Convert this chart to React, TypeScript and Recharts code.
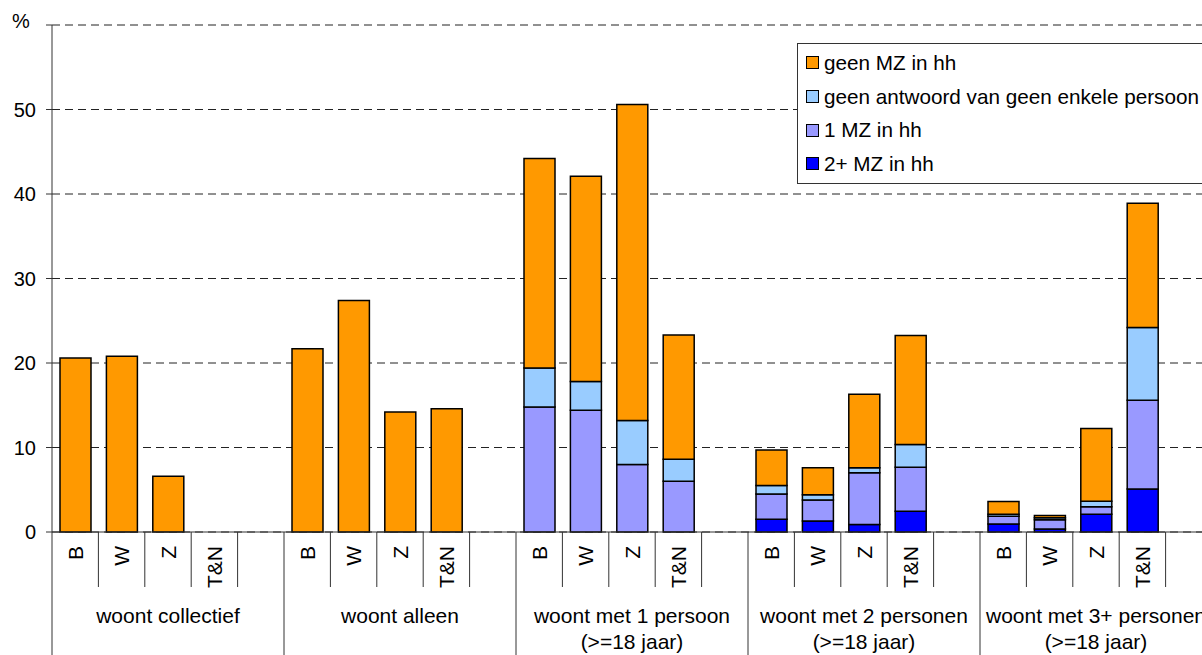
import React from "react";
import { BarChart, Bar, XAxis, YAxis, CartesianGrid, Legend } from "recharts";

// bar labels inside each group (last slot stays empty)
const REGIONS = ["B", "W", "Z", "T&N", ""];
const GROUPS = [
  ["woont collectief"],
  ["woont alleen"],
  ["woont met 1 persoon", "(>=18 jaar)"],
  ["woont met 2 personen", "(>=18 jaar)"],
  ["woont met 3+ personen", "(>=18 jaar)"],
];

// values per group, in order B, W, Z, T&N
const tweePlusMZ = [0, 0, 0, 0, 0, 0, 0, 0, 0, 0, 0, 0, 1.5, 1.3, 0.9, 2.45, 0.95, 0.35, 2.1, 5.1];
const eenMZ = [0, 0, 0, 0, 0, 0, 0, 0, 14.8, 14.4, 8.0, 6.0, 3.0, 2.5, 6.1, 5.2, 0.9, 1.1, 0.9, 10.5];
const geenAntwoord = [0, 0, 0, 0, 0, 0, 0, 0, 4.6, 3.4, 5.2, 2.6, 1.0, 0.6, 0.6, 2.7, 0.25, 0.25, 0.65, 8.6];
const geenMZ = [20.6, 20.8, 6.6, 0, 21.7, 27.4, 14.2, 14.6, 24.8, 24.3, 37.4, 14.7, 4.2, 3.2, 8.7, 12.9, 1.5, 0.25, 8.6, 14.7];

const Y_TICKS = [0, 10, 20, 30, 40, 50, 60];

const SERIES = [
  { key: "twee", name: "2+ MZ in hh", color: "#0000FF" },
  { key: "een", name: "1 MZ in hh", color: "#9999FF" },
  { key: "geenAntw", name: "geen antwoord van geen enkele persoon", color: "#99CCFF" },
  { key: "geen", name: "geen MZ in hh", color: "#FF9900" },
];

const FONT = "'Liberation Sans', Arial, sans-serif";
const W = 1230;
const H = 655;
const Y_W = 52;
const X_H = 123;
const RIGHT = 18;
const AXIS_Y = H - X_H;
const N_SLOTS = GROUPS.length * REGIONS.length;
const HALF_SLOT = (W - Y_W - RIGHT) / N_SLOTS / 2;

const data: any[] = [];
GROUPS.forEach((g, gi) => {
  REGIONS.forEach((r, ri) => {
    const k = gi * 4 + ri;
    const has = ri < 4;
    data.push({
      key: `${gi}-${ri}`,
      region: r,
      group: gi,
      slot: ri,
      twee: has ? tweePlusMZ[k] : 0,
      een: has ? eenMZ[k] : 0,
      geenAntw: has ? geenAntwoord[k] : 0,
      geen: has ? geenMZ[k] : 0,
    });
  });
});

const XTick = (props: any) => {
  const { x, payload } = props;
  const idx = data.findIndex((d) => d.key === payload.value);
  if (idx < 0) return null;
  const row = data[idx];
  const half = typeof payload.offset === "number" && payload.offset > 0 ? payload.offset : HALF_SLOT;
  const left = x - half;
  const isGroupStart = row.slot === 0;
  const lines = GROUPS[row.group];
  return (
    <g>
      <line x1={left} x2={left} y1={AXIS_Y} y2={isGroupStart ? H : AXIS_Y + 55} stroke="#333" strokeWidth={1} />
      {idx === data.length - 1 && (
        <line x1={x + half} x2={x + half} y1={AXIS_Y} y2={H} stroke="#333" strokeWidth={1} />
      )}
      {row.region && (
        <text
          transform={`translate(${x},${AXIS_Y + 14}) rotate(-90)`}
          textAnchor="end"
          dominantBaseline="central"
          fontSize={21}
          fontFamily={FONT}
          fill="#000"
        >
          {row.region}
        </text>
      )}
      {row.slot === 2 &&
        lines.map((t, li) => (
          <text key={li} x={x} y={AXIS_Y + 91 + li * 26} textAnchor="middle" fontSize={21} fontFamily={FONT} fill="#000">
            {t}
          </text>
        ))}
    </g>
  );
};

const YTick = (props: any) => {
  const { x, y, payload } = props;
  if (payload.value === 60) {
    return (
      <text x={12} y={y + 3} fontSize={20} fontFamily={FONT} fill="#000">
        %
      </text>
    );
  }
  return (
    <text x={x} y={y} dy="0.35em" textAnchor="end" fontSize={20} fontFamily={FONT} fill="#000">
      {payload.value}
    </text>
  );
};

const LegendBox = () => (
  <div
    style={{
      border: "1px solid #333",
      background: "#fff",
      padding: "2px 0",
      width: 430,
      fontFamily: FONT,
      fontSize: 20.7,
      color: "#000",
      boxSizing: "border-box",
    }}
  >
    {[...SERIES].reverse().map((s) => (
      <div key={s.key} style={{ height: 33.7, display: "flex", alignItems: "center", paddingLeft: 8 }}>
        <span
          style={{
            display: "inline-block",
            width: 11,
            height: 11,
            background: s.color,
            border: "1px solid #000",
            marginRight: 5,
          }}
        />
        <span style={{ whiteSpace: "nowrap" }}>{s.name}</span>
      </div>
    ))}
  </div>
);

export default function App() {
  return (
    <div style={{ position: "absolute", left: 0, top: 0, width: 1202, height: 655, overflow: "hidden", background: "#fff" }}>
      <BarChart width={W} height={H} data={data} margin={{ top: 25, right: RIGHT, bottom: 0, left: 0 }} barSize={31}>
        <CartesianGrid vertical={false} stroke="#222" strokeDasharray="8 5" />
        <XAxis
          dataKey="key"
          interval={0}
          height={X_H}
          tickLine={false}
          tickSize={0}
          tickMargin={0}
          axisLine={{ stroke: "#333" }}
          tick={<XTick />}
        />
        <YAxis
          domain={[0, 60]}
          ticks={Y_TICKS}
          interval={0}
          width={Y_W}
          tickSize={6}
          tickMargin={10}
          axisLine={{ stroke: "#333" }}
          tickLine={{ stroke: "#333" }}
          tick={<YTick />}
        />
        <Legend
          layout="vertical"
          align="center"
          verticalAlign="middle"
          wrapperStyle={{ left: 797, top: 43, width: "auto", height: "auto" }}
          content={() => <LegendBox />}
        />
        {SERIES.map((s) => (
          <Bar
            key={s.key}
            dataKey={s.key}
            name={s.name}
            stackId="a"
            fill={s.color}
            stroke="#000"
            strokeWidth={1.5}
            isAnimationActive={false}
          />
        ))}
      </BarChart>
    </div>
  );
}
